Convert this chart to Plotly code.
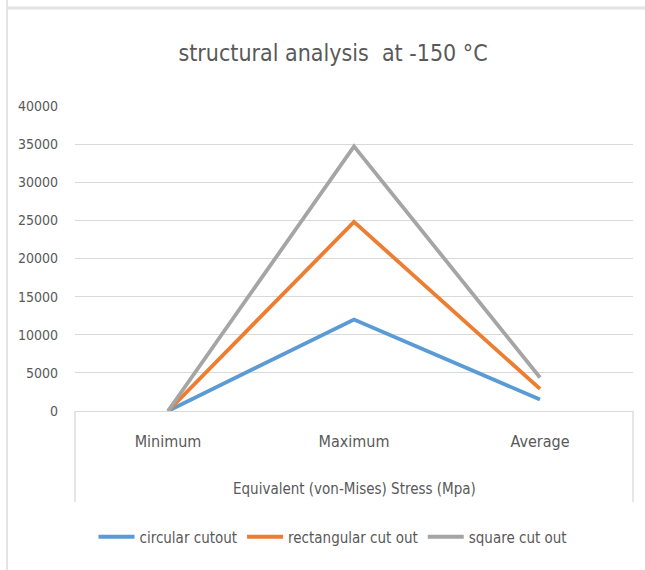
import plotly.graph_objects as go

# Stress values (MPa) per cutout shape
categories = ["Minimum", "Maximum", "Average"]
circular = [0, 12000, 1500]
rectangular = [0, 24800, 2900]
square = [0, 34700, 4400]
series_names = ["circular cutout", "rectangular cut out", "square cut out"]
colors = ["#5B9BD5", "#ED7D31", "#A5A5A5"]
y_ticks = [0, 5000, 10000, 15000, 20000, 25000, 30000, 35000, 40000]
y_tick_text = [str(v) for v in y_ticks]

FONT = "Liberation Sans Narrow, DejaVu Sans Condensed, Arial Narrow, sans-serif"
TEXT = "#595959"
GRID = "#D9D9D9"

W, H = 645, 570
L, R, T, B = 75, 12, 106, 159
pw, ph = W - L - R, H - T - B


def px(x):
    return (x - L) / pw


def py(y):
    return (H - B - y) / ph


fig = go.Figure()
for name, vals, col in zip(series_names, [circular, rectangular, square], colors):
    fig.add_trace(go.Scatter(
        x=categories, y=vals, name=name, mode="lines",
        line=dict(color=col, width=3.8),
    ))

shapes = [
    # axis box below the plot (multi-level category area)
    dict(type="line", xref="paper", yref="paper", x0=0, x1=0, y0=0, y1=py(502),
         line=dict(color=GRID, width=1.3)),
    dict(type="line", xref="paper", yref="paper", x0=1, x1=1, y0=0, y1=py(502),
         line=dict(color=GRID, width=1.3)),
    # chart area border
    dict(type="line", xref="paper", yref="paper", x0=px(7), x1=px(7), y0=py(0), y1=py(H),
         line=dict(color="#E3E3E3", width=2)),
    dict(type="line", xref="paper", yref="paper", x0=px(7), x1=px(W), y0=py(8), y1=py(8),
         line=dict(color="#E3E3E3", width=3)),
]

annotations = [
    dict(text="Equivalent (von-Mises) Stress (Mpa)", xref="paper", yref="paper",
         x=0.5, y=py(489), xanchor="center", yanchor="middle", showarrow=False,
         font=dict(family=FONT, size=15, color=TEXT)),
]

fig.update_layout(
    width=W, height=H,
    margin=dict(l=L, r=R, t=T, b=B),
    paper_bgcolor="white", plot_bgcolor="white",
    title=dict(text="structural analysis  at -150 °C", x=px(333), xref="paper",
               xanchor="center", y=1 - 53 / H, yanchor="middle",
               font=dict(family=FONT, size=23, color=TEXT)),
    font=dict(family=FONT, color=TEXT, size=15),
    xaxis=dict(type="category", range=[-0.5, 2.5], showgrid=False,
               showline=True, linecolor=GRID, linewidth=1.3, ticks="",
               tickfont=dict(family=FONT, size=16, color=TEXT), ticklabelstandoff=16,
               zeroline=False, fixedrange=True),
    yaxis=dict(range=[0, 40000], tickvals=y_ticks, ticktext=y_tick_text,
               showgrid=True, gridcolor=GRID,
               gridwidth=1.3, zeroline=False, showline=False, ticks="",
               tickfont=dict(family=FONT, size=14, color=TEXT), ticklabelstandoff=16,
               fixedrange=True),
    legend=dict(orientation="h", x=px(333), xanchor="center", xref="paper",
                y=py(537), yanchor="middle", yref="paper",
                font=dict(family=FONT, size=15, color=TEXT),
                itemwidth=36, tracegroupgap=0, bgcolor="rgba(0,0,0,0)"),
    showlegend=True,
    shapes=shapes,
    annotations=annotations,
)

fig.write_html("out.html")
